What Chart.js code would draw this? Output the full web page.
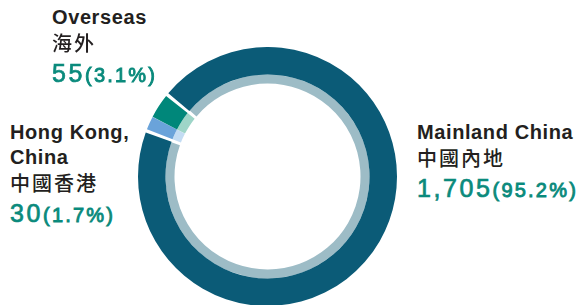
<!DOCTYPE html>
<html>
<head>
<meta charset="utf-8">
<script src="https://cdn.jsdelivr.net/npm/chart.js@4/dist/chart.umd.min.js"></script>
<style>
  html, body { margin: 0; padding: 0; background: #fff; }
  body { width: 582px; height: 305px; position: relative; overflow: hidden; font-family: "Liberation Sans", Arial, sans-serif; }
  #wrap { position: absolute; left: 138px; top: 47px; width: 259px; height: 259px; }
  .ln { position: absolute; white-space: nowrap; }
  .en { font-size: 20px; line-height: 20px; font-weight: bold; color: #231f20; letter-spacing: 0.6px; }
  .zh { font-family: "Noto Sans CJK TC", sans-serif; font-size: 20px; line-height: 20px; font-weight: 500; color: #231f20; letter-spacing: 2px; }
  .num { font-size: 25px; line-height: 25px; color: #0a8a7c; letter-spacing: 2.6px; -webkit-text-stroke: 0.7px #0a8a7c; }
  .num small { font-size: 20px; letter-spacing: 2.2px; -webkit-text-stroke: 0.9px #0a8a7c; }
</style>
</head>
<body>
<div id="wrap"><canvas id="grafico"></canvas></div>
<div id="labels"></div>
<script>
// data
const categories = ['Mainland China', 'Hong Kong, China', 'Overseas'];
const categoriesZh = ['中國內地', '中國香港', '海外'];
const values = [1705, 30, 55];
const percents = ['95.2%', '1.7%', '3.1%'];

const outerColors = ['#0b5b77', '#6aa3da', '#00877a'];
const innerColors = ['#9dbcc6', '#c3dcf3', '#9ed5c8'];

// label blocks: english lines, left, top of first line
const blocks = [
    { en: ['Mainland China'], left: 417, top: 122 },
    { en: ['Hong Kong,', 'China'], left: 10, top: 122 },
    { en: ['Overseas'], left: 52, top: 7 }
];

const labels = document.getElementById('labels');
blocks.forEach((b, i) => {
    let y = b.top;
    b.en.forEach(t => {
        labels.insertAdjacentHTML('beforeend', `<div class="ln en" style="left:${b.left}px;top:${y}px">${t}</div>`);
        y += 25;
    });
    labels.insertAdjacentHTML('beforeend', `<div class="ln zh" style="left:${b.left}px;top:${y + 1}px">${categoriesZh[i]}</div>`);
    labels.insertAdjacentHTML('beforeend', `<div class="ln num" style="left:${b.left}px;top:${y + 29}px">${values[i].toLocaleString('en-US')}<small>(${percents[i]})</small></div>`);
});

const ctx = document.getElementById('grafico').getContext('2d');
window.myChart = new Chart(ctx, {
    type: 'doughnut',
    data: {
        labels: categories,
        datasets: [
            { data: values, backgroundColor: outerColors, borderWidth: 0, weight: 27.5, spacing: 2 },
            { data: values, backgroundColor: innerColors, borderWidth: 0, weight: 9, spacing: 2 }
        ]
    },
    options: {
        responsive: true,
        maintainAspectRatio: false,
        animation: false,
        rotation: -51.5,
        cutout: '71.6%',
        layout: { padding: 0 },
        plugins: {
            legend: { display: false },
            tooltip: { enabled: false }
        }
    }
});
</script>
</body>
</html>
